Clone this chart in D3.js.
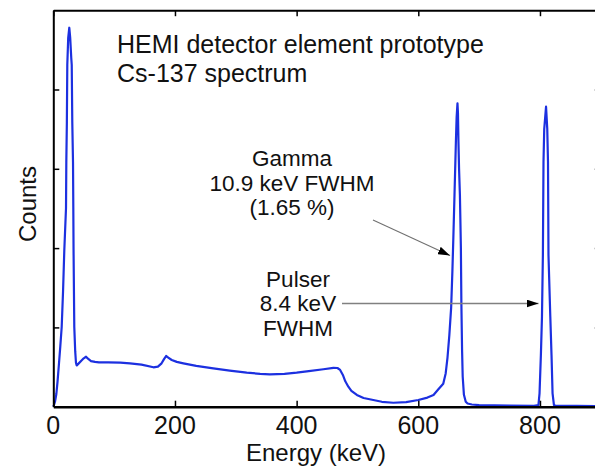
<!DOCTYPE html>
<html>
<head>
<meta charset="utf-8">
<script src="https://cdn.jsdelivr.net/npm/d3@7"></script>
<style>
  html, body { margin: 0; padding: 0; background: #fff; overflow: hidden; }
  svg { display: block; font-family: "Liberation Sans", Arial, sans-serif; }
</style>
</head>
<body>
<svg id="chart" width="595" height="468"></svg>
<script>
// ---- Data ----
const energy = [0, 1, 3, 5, 7, 9.4, 11.5, 13.8, 16, 18.1, 20.9, 21.4, 22.3, 23.0, 24.5, 26.3, 27.8, 29.5, 30.3, 31.2, 32.4, 32.9, 33.3, 34.5, 36, 37.3, 38.5,
  41, 46, 50, 53.8, 57, 62, 68.6, 75, 90, 110, 126, 145, 164.6, 172, 178, 182, 185.4, 189, 194.7, 203, 213.8, 235, 263, 290, 318, 340, 356, 380, 400, 420, 444, 460.5, 467, 471.5, 476, 480, 485, 490, 499, 510, 526, 540, 559, 580, 600, 615, 625, 633, 641,
  645, 648, 651, 654, 656, 657.5, 659.5, 661.8, 663, 664.4, 665.2, 666, 667, 668.4, 669.3, 670, 670.8, 672, 673, 675, 678, 681, 688, 700, 750, 790,
  797.5, 799.3, 801.5, 803.3, 804.8, 805.8, 807, 810, 812, 813.2, 814, 817, 819, 820.7, 823, 826, 860, 900];
const counts = [0, 20, 70, 160, 320, 551, 760, 1005, 1450, 1976, 2506, 3086, 3590, 4309, 4650, 4779, 4650, 4400, 4309, 3590, 3086, 2506, 1976, 1005, 700, 551, 520,
  540, 580, 610, 630, 605, 575, 565, 560, 560, 555, 547, 530, 497, 505, 547, 600, 639, 620, 589, 565, 547, 515, 484, 455, 429, 415, 408, 415, 429, 448, 472, 490, 488, 463, 400, 320, 252, 200, 148, 110, 84, 62, 50, 58, 84, 115, 148, 220, 290,
  420, 620, 900, 1250, 1700, 2100, 2670, 3342, 3650, 3826, 3700, 3342, 3000, 2670, 2300, 2000, 1300, 700, 378, 150, 63, 40, 28, 20, 15, 12,
  20, 169, 650, 1135, 1913, 3090, 3500, 3783, 3500, 3090, 1913, 1135, 650, 169, 20, 12, 10, 8];

const xTicks = [0, 200, 400, 600, 800];
const yTicks = [1000, 2000, 3000, 4000];
const titleLines = ["HEMI detector element prototype", "Cs-137 spectrum"];
const gammaLines = ["Gamma", "10.9 keV FWHM", "(1.65 %)"];
const pulserLines = ["Pulser", "8.4 keV", "FWHM"];
const xLabel = "Energy (keV)";
const yLabel = "Counts";

// ---- Layout ----
const svg = d3.select("#chart");
const pLeft = 53.3, pRight = 600.8, pTop = 10.2, pBottom = 406.7;
const x = d3.scaleLinear().domain([0, 900]).range([pLeft, pRight]);
const y = d3.scaleLinear().domain([0, 5000]).range([pBottom, pTop]);
const font = '"Liberation Sans", Arial, sans-serif';

// spectrum
const pts = energy.map((e, i) => [e, counts[i]]);
const line = d3.line().x(d => x(d[0])).y(d => y(d[1]));
svg.append("path")
  .datum(pts)
  .attr("d", line)
  .attr("fill", "none")
  .attr("stroke", "#1c30e0")
  .attr("stroke-width", 2.2)
  .attr("stroke-linejoin", "round");

// axes (ticks pointing inward on all four sides)
const tickLen = 6;
const axB = svg.append("g").attr("transform", `translate(0,${pBottom})`)
  .call(d3.axisBottom(x).tickValues(xTicks).tickSizeInner(-tickLen).tickSizeOuter(0).tickFormat(""));
const axT = svg.append("g").attr("transform", `translate(0,${pTop})`)
  .call(d3.axisTop(x).tickValues(xTicks).tickSizeInner(-tickLen).tickSizeOuter(0).tickFormat(""));
const axL = svg.append("g").attr("transform", `translate(${pLeft},0)`)
  .call(d3.axisLeft(y).tickValues(yTicks).tickSizeInner(-tickLen).tickSizeOuter(0).tickFormat(""));
const axR = svg.append("g").attr("transform", `translate(${pRight},0)`)
  .call(d3.axisRight(y).tickValues(yTicks).tickSizeInner(-tickLen).tickSizeOuter(0).tickFormat(""));
[axB, axT, axL, axR].forEach(g => {
  g.select(".domain").attr("stroke", "#000").attr("stroke-width", 2);
  g.selectAll(".tick line").attr("stroke", "#000").attr("stroke-width", 1.5);
});
axB.select(".domain").attr("stroke-width", 2.6);

// x tick labels
svg.append("g").selectAll("text").data(xTicks).join("text")
  .attr("x", d => x(d)).attr("y", 434)
  .attr("text-anchor", "middle")
  .attr("font-size", 25).attr("font-family", font).attr("fill", "#111")
  .text(d => d);

// axis labels
svg.append("text").attr("x", 316).attr("y", 461)
  .attr("text-anchor", "middle").attr("font-size", 24).attr("font-family", font).attr("fill", "#111")
  .text(xLabel);
svg.append("text").attr("transform", "translate(36,204) rotate(-90)")
  .attr("text-anchor", "middle").attr("font-size", 24).attr("font-family", font).attr("fill", "#111")
  .text(yLabel);

// title
svg.append("g").selectAll("text").data(titleLines).join("text")
  .attr("x", 117).attr("y", (d, i) => 53 + i * 28.5)
  .attr("font-size", 25).attr("font-family", font).attr("fill", "#111")
  .text(d => d);

// annotations
svg.append("g").selectAll("text").data(gammaLines).join("text")
  .attr("x", 292).attr("y", (d, i) => 166 + i * 24.5)
  .attr("text-anchor", "middle").attr("font-size", 22.5).attr("font-family", font).attr("fill", "#111")
  .text(d => d);
svg.append("g").selectAll("text").data(pulserLines).join("text")
  .attr("x", 298).attr("y", (d, i) => 286.5 + i * 24.5)
  .attr("text-anchor", "middle").attr("font-size", 22.5).attr("font-family", font).attr("fill", "#111")
  .text(d => d);

// arrows
const defs = svg.append("defs");
defs.append("marker").attr("id", "ah")
  .attr("viewBox", "0 0 12 8").attr("refX", 12).attr("refY", 4)
  .attr("markerWidth", 12).attr("markerHeight", 8)
  .attr("markerUnits", "userSpaceOnUse").attr("orient", "auto")
  .append("path").attr("d", "M0,0 L12,4 L0,8 Z").attr("fill", "#000");
// gamma arrow: from text to left flank of the 662 keV peak
svg.append("line")
  .attr("x1", 373).attr("y1", 220).attr("x2", 450).attr("y2", 255.5)
  .attr("stroke", "#707070").attr("stroke-width", 1.1).attr("marker-end", "url(#ah)");
// pulser arrow
svg.append("line")
  .attr("x1", 342).attr("y1", 303.5).attr("x2", 538.5).attr("y2", 303.5)
  .attr("stroke", "#808080").attr("stroke-width", 1.3).attr("marker-end", "url(#ah)");
</script>
</body>
</html>
